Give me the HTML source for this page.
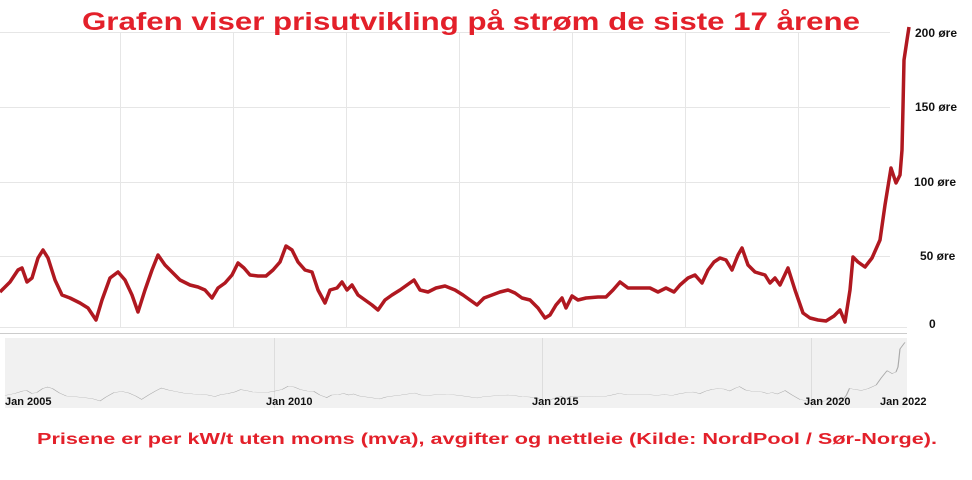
<!DOCTYPE html>
<html><head><meta charset="utf-8"><style>
body{margin:0;background:#fff;width:972px;height:475px;overflow:hidden;font-family:"Liberation Sans",Arial,sans-serif}
</style></head><body>
<svg width="972" height="475" viewBox="0 0 972 475" xmlns="http://www.w3.org/2000/svg" font-family="Liberation Sans, Arial, sans-serif">
<rect width="972" height="475" fill="#fff"/>
<g stroke="#e6e6e6" stroke-width="1">
<line x1="0" y1="32.5" x2="890" y2="32.5"/>
<line x1="0" y1="107.5" x2="890" y2="107.5"/>
<line x1="0" y1="182.5" x2="890" y2="182.5"/>
<line x1="0" y1="256.5" x2="890" y2="256.5"/>
<line x1="0" y1="327.5" x2="907" y2="327.5"/>
<line x1="120.5" y1="32" x2="120.5" y2="327"/>
<line x1="233.5" y1="32" x2="233.5" y2="327"/>
<line x1="346.5" y1="32" x2="346.5" y2="327"/>
<line x1="459.5" y1="32" x2="459.5" y2="327"/>
<line x1="572.5" y1="32" x2="572.5" y2="327"/>
<line x1="685.5" y1="32" x2="685.5" y2="327"/>
<line x1="798.5" y1="32" x2="798.5" y2="327"/>
</g>
<line x1="0" y1="333.5" x2="907" y2="333.5" stroke="#ccc"/>
<rect x="5" y="338" width="902" height="70" fill="#f1f1f1"/>
<g stroke="#ddd"><line x1="274.5" y1="338" x2="274.5" y2="408"/><line x1="542.5" y1="338" x2="542.5" y2="408"/><line x1="811.5" y1="338" x2="811.5" y2="408"/></g>
<defs><polyline id="s" points="0,292 10,282 18,270 22,268 27,282 32,278 38,258 43,250 48,258 55,280 62,295 70,298 80,303 88,308 96,320 102,300 110,278 118,272 125,280 132,295 138,312 145,290 152,270 158,255 165,265 172,272 180,280 190,285 198,287 205,290 212,298 218,288 225,283 232,275 238,263 244,268 250,275 258,276 266,276 273,270 280,262 286,246 292,250 298,262 305,270 312,272 318,290 325,303 330,290 337,288 342,282 347,290 352,285 358,295 365,300 372,305 378,310 385,300 392,295 400,290 407,285 414,280 420,290 428,292 436,288 445,286 455,290 463,295 470,300 477,305 484,298 492,295 500,292 508,290 515,293 522,298 530,300 538,308 545,318 550,315 556,305 562,298 566,308 572,296 578,300 586,298 598,297 606,297 613,290 620,282 628,288 640,288 650,288 658,292 666,288 674,292 680,285 688,278 695,275 702,283 708,270 714,262 720,258 726,260 732,270 738,255 742,248 748,265 755,272 765,275 770,283 775,278 780,285 788,268 795,290 803,313 810,318 818,320 826,321 834,316 840,310 845,322 850,290 853,257 858,262 865,267 872,258 880,240 885,205 891,168 896,183 900,175 902,150 903,107 904,60 907,40 909,27"/></defs>
<g transform="translate(5,343) scale(0.99,0.2) translate(0,-30)"><use href="#s" fill="none" stroke="#aaa" stroke-width="1.2" vector-effect="non-scaling-stroke"/></g>
<use href="#s" fill="none" stroke="#b01820" stroke-width="3.5" stroke-linejoin="round"/>
<g font-size="12" font-weight="bold" fill="#111">
<text x="915" y="37">200 øre</text>
<text x="915" y="111">150 øre</text>
<text x="914" y="186">100 øre</text>
<text x="920" y="260">50 øre</text>
<text x="929" y="328">0</text>
</g>
<g font-size="11" font-weight="bold" fill="#111">
<text x="5" y="405">Jan 2005</text>
<text x="266" y="405">Jan 2010</text>
<text x="532" y="405">Jan 2015</text>
<text x="804" y="405">Jan 2020</text>
<text x="880" y="405">Jan 2022</text>
</g>
<text x="471" y="30" text-anchor="middle" font-size="25" font-weight="bold" fill="#e3202a" textLength="778" lengthAdjust="spacingAndGlyphs">Grafen viser prisutvikling på strøm de siste 17 årene</text>
<text x="487" y="444" text-anchor="middle" font-size="16" font-weight="bold" fill="#e3202a" textLength="900" lengthAdjust="spacingAndGlyphs">Prisene er per kW/t uten moms (mva), avgifter og nettleie (Kilde: NordPool / Sør-Norge).</text>
</svg>
</body></html>
